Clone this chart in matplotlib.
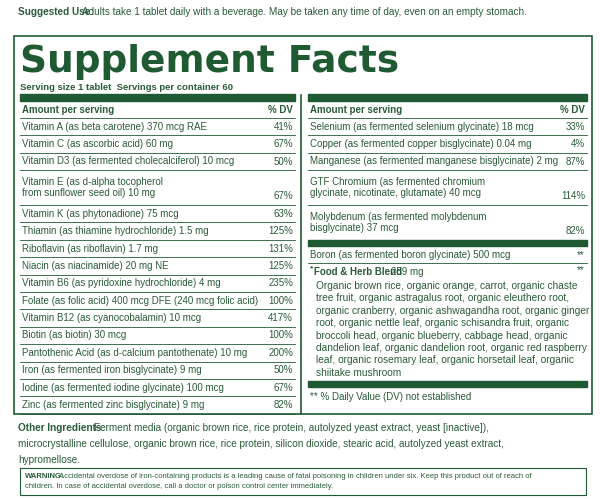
import matplotlib
matplotlib.use("Agg")
import matplotlib.pyplot as plt
from matplotlib.patches import Rectangle

GREEN = "#1f5a32"
TXT = "#2a5c38"
FAM = ["Liberation Sans", "DejaVu Sans"]

left_names = [
    "Vitamin A (as beta carotene) 370 mcg RAE",
    "Vitamin C (as ascorbic acid) 60 mg",
    "Vitamin D3 (as fermented cholecalciferol) 10 mcg",
    "Vitamin E (as d-alpha tocopherol\nfrom sunflower seed oil) 10 mg",
    "Vitamin K (as phytonadione) 75 mcg",
    "Thiamin (as thiamine hydrochloride) 1.5 mg",
    "Riboflavin (as riboflavin) 1.7 mg",
    "Niacin (as niacinamide) 20 mg NE",
    "Vitamin B6 (as pyridoxine hydrochloride) 4 mg",
    "Folate (as folic acid) 400 mcg DFE (240 mcg folic acid)",
    "Vitamin B12 (as cyanocobalamin) 10 mcg",
    "Biotin (as biotin) 30 mcg",
    "Pantothenic Acid (as d-calcium pantothenate) 10 mg",
    "Iron (as fermented iron bisglycinate) 9 mg",
    "Iodine (as fermented iodine glycinate) 100 mcg",
    "Zinc (as fermented zinc bisglycinate) 9 mg",
]
left_dv = ["41%", "67%", "50%", "67%", "63%", "125%", "131%", "125%", "235%",
           "100%", "417%", "100%", "200%", "50%", "67%", "82%"]

right_names = [
    "Selenium (as fermented selenium glycinate) 18 mcg",
    "Copper (as fermented copper bisglycinate) 0.04 mg",
    "Manganese (as fermented manganese bisglycinate) 2 mg",
    "GTF Chromium (as fermented chromium\nglycinate, nicotinate, glutamate) 40 mcg",
    "Molybdenum (as fermented molybdenum\nbisglycinate) 37 mcg",
]
right_dv = ["33%", "4%", "87%", "114%", "82%"]

blend_lines = [
    "Organic brown rice, organic orange, carrot, organic chaste",
    "tree fruit, organic astragalus root, organic eleuthero root,",
    "organic cranberry, organic ashwagandha root, organic ginger",
    "root, organic nettle leaf, organic schisandra fruit, organic",
    "broccoli head, organic blueberry, cabbage head, organic",
    "dandelion leaf, organic dandelion root, organic red raspberry",
    "leaf, organic rosemary leaf, organic horsetail leaf, organic",
    "shiitake mushroom",
]

fig = plt.figure(figsize=(6.0, 4.99), dpi=100)
ax = fig.add_axes([0, 0, 1, 1])
ax.set_xlim(0, 600)
ax.set_ylim(499, 0)
ax.axis("off")


def t(x, y, s, size=7.0, weight="normal", ha="left", va="center", color=TXT, fam=FAM):
    ax.text(x, y, s, fontsize=size, fontweight=weight, ha=ha, va=va, color=color,
            family=fam, linespacing=1.15)


def hline(x0, x1, y, lw=0.6):
    ax.plot([x0, x1], [y, y], color=GREEN, lw=lw)


# top line
t(18, 12, "Suggested Use:", weight="bold", size=7.2)
t(82, 12, "Adults take 1 tablet daily with a beverage. May be taken any time of day, even on an empty stomach.", size=7.2)

# outer box
ax.add_patch(Rectangle((14, 36), 578, 378, fill=False, ec=GREEN, lw=1.2))
t(20, 62, "Supplement Facts", size=27, weight="bold", color=GREEN,
  fam=["DejaVu Sans"])
t(20, 87, "Serving size 1 tablet  Servings per container 60", weight="bold", size=6.8)

# column geometry
LX0, LX1 = 20, 295
RX0, RX1 = 308, 587
ax.plot([301, 301], [95, 414], color=GREEN, lw=1.2)
for x0, x1 in [(LX0, LX1), (RX0, RX1)]:
    ax.add_patch(Rectangle((x0, 94), x1 - x0, 7, color=GREEN))
    t(x0 + 2, 110, "Amount per serving", weight="bold")
    t(x1 - 2, 110, "% DV", weight="bold", ha="right")
    hline(x0, x1, 118)

# left rows
y = 118
for name, dv in zip(left_names, left_dv):
    h = 17.4 * (name.count("\n") + 1)
    t(LX0 + 2, y + h / 2, name)
    t(LX1 - 2, y + h - 8.7, dv, ha="right")
    y += h
    hline(LX0, LX1, y)

# right rows
y = 118
for name, dv in zip(right_names, right_dv):
    h = 17.4 * (name.count("\n") + 1)
    t(RX0 + 2, y + h / 2, name)
    t(RX1 - 2, y + h - 8.7, dv, ha="right")
    y += h
    if name is not right_names[-1]:
        hline(RX0, RX1, y)
ax.add_patch(Rectangle((RX0, y), RX1 - RX0, 6, color=GREEN))
t(RX0 + 2, 255, "Boron (as fermented boron glycinate) 500 mcg")
t(RX1 - 2, 255, "**", ha="right")
hline(RX0, RX1, 263)
t(RX0 + 2, 272, "*", weight="bold", size=6, va="bottom")
t(RX0 + 6, 272, "Food & Herb Blend", weight="bold")
t(RX0 + 83, 272, "259 mg")
t(RX1 - 2, 270, "**", ha="right")
for i, line in enumerate(blend_lines):
    t(RX0 + 8, 286 + i * 12.4, line, size=7.3)
ax.add_patch(Rectangle((RX0, 381), RX1 - RX0, 6, color=GREEN))
t(RX0 + 2, 397, "** % Daily Value (DV) not established")

# other ingredients
t(18, 428, "Other Ingredients:", weight="bold", size=7.2)
t(94, 428, "Ferment media (organic brown rice, rice protein, autolyzed yeast extract, yeast [inactive]),", size=7.2)
t(18, 444, "microcrystalline cellulose, organic brown rice, rice protein, silicon dioxide, stearic acid, autolyzed yeast extract,", size=7.2)
t(18, 460, "hypromellose.", size=7.2)

# warning box
ax.add_patch(Rectangle((20, 468), 566, 27, fill=False, ec=GREEN, lw=0.8))
t(25, 476, "WARNING:", weight="bold", size=5.5)
t(59, 476, "Accidental overdose of iron-containing products is a leading cause of fatal poisoning in children under six. Keep this product out of reach of", size=5.5)
t(25, 487, "children. In case of accidental overdose, call a doctor or poison control center immediately.", size=5.5)

fig.savefig("out.png", dpi=100)
